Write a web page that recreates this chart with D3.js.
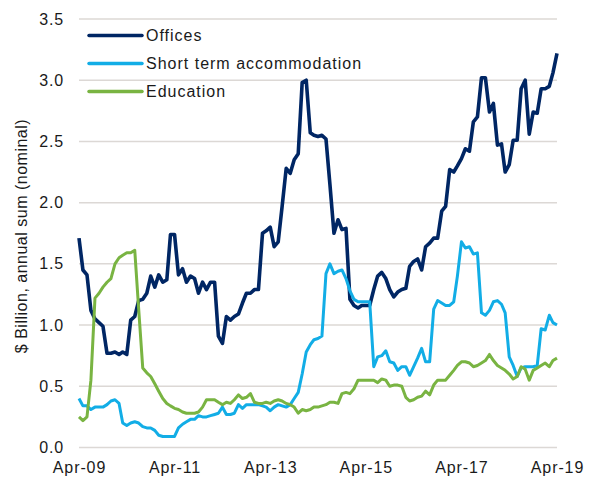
<!DOCTYPE html>
<html>
<head>
<meta charset="utf-8">
<script src="https://cdn.jsdelivr.net/npm/d3@7"></script>
<style>
  body { margin: 0; background: #fff; }
  svg text { font-family: "Liberation Sans", Arial, sans-serif; fill: #1a1a1a; }
</style>
</head>
<body>
<svg id="chart" width="595" height="481"></svg>
<script>
// monthly, Apr-09 .. Apr-19 ($ billion, annual sum)
const offices = [
  1.71, 1.45, 1.41, 1.12, 1.05, 1.02, 0.99, 0.77, 0.77, 0.78, 0.76, 0.78,
  0.76, 1.04, 1.07, 1.20, 1.21, 1.26, 1.40, 1.31, 1.41, 1.35, 1.37, 1.74,
  1.74, 1.41, 1.46, 1.35, 1.40, 1.38, 1.26, 1.35, 1.29, 1.35, 1.35, 0.91,
  0.85, 1.07, 1.04, 1.07, 1.09, 1.18, 1.26, 1.26, 1.29, 1.29, 1.75, 1.77,
  1.80, 1.64, 1.68, 1.97, 2.28, 2.24, 2.35, 2.40, 2.98, 3.00, 2.57, 2.55,
  2.54, 2.55, 2.52, 2.15, 1.75, 1.86, 1.78, 1.79, 1.21, 1.16, 1.14, 1.16,
  1.16, 1.16, 1.29, 1.40, 1.43, 1.38, 1.29, 1.23, 1.27, 1.29, 1.30, 1.48,
  1.52, 1.54, 1.45, 1.64, 1.67, 1.71, 1.71, 1.93, 1.97, 2.27, 2.25, 2.30,
  2.36, 2.44, 2.42, 2.66, 2.70, 3.02, 3.02, 2.74, 2.81, 2.47, 2.48, 2.25,
  2.31, 2.51, 2.51, 2.93, 3.00, 2.56, 2.74, 2.73, 2.93, 2.93, 2.95, 3.06,
  3.22
];
const shortTerm = [
  0.40, 0.34, 0.34, 0.31, 0.33, 0.33, 0.33, 0.35, 0.38, 0.39, 0.36, 0.20,
  0.18, 0.20, 0.21, 0.20, 0.17, 0.16, 0.16, 0.14, 0.10, 0.09, 0.09, 0.09,
  0.09, 0.16, 0.19, 0.21, 0.23, 0.23, 0.26, 0.25, 0.25, 0.26, 0.27, 0.28,
  0.33, 0.27, 0.27, 0.28, 0.35, 0.32, 0.35, 0.35, 0.35, 0.35, 0.34, 0.33,
  0.30, 0.33, 0.35, 0.34, 0.33, 0.35, 0.40, 0.45, 0.60, 0.78, 0.84, 0.88,
  0.89, 0.91, 1.42, 1.50, 1.42, 1.44, 1.45, 1.38, 1.28, 1.21, 1.19, 1.19,
  1.19, 1.19, 0.66, 0.74, 0.75, 0.79, 0.70, 0.69, 0.63, 0.66, 0.66, 0.59,
  0.66, 0.73, 0.81, 0.70, 0.70, 1.13, 1.20, 1.18, 1.16, 1.16, 1.19, 1.40,
  1.68, 1.63, 1.64, 1.58, 1.59, 1.10, 1.08, 1.12, 1.19, 1.20, 1.17, 1.10,
  0.74, 0.67, 0.58, 0.65, 0.66, 0.66, 0.66, 0.67, 0.97, 0.96, 1.08, 1.02,
  1.00
];
const education = [
  0.25, 0.22, 0.25, 0.55, 1.22, 1.26, 1.31, 1.35, 1.38, 1.50, 1.55, 1.57,
  1.59, 1.59, 1.61, 1.13, 0.65, 0.61, 0.58, 0.52, 0.46, 0.40, 0.36, 0.34,
  0.32, 0.31, 0.29, 0.28, 0.28, 0.28, 0.29, 0.33, 0.39, 0.39, 0.39, 0.37,
  0.35, 0.37, 0.36, 0.39, 0.43, 0.40, 0.41, 0.44, 0.37, 0.36, 0.36, 0.37,
  0.36, 0.38, 0.39, 0.38, 0.36, 0.35, 0.33, 0.28, 0.31, 0.30, 0.31, 0.33,
  0.33, 0.34, 0.35, 0.37, 0.37, 0.36, 0.44, 0.45, 0.44, 0.48, 0.55, 0.55,
  0.55, 0.55, 0.55, 0.53, 0.56, 0.55, 0.50, 0.51, 0.51, 0.50, 0.41, 0.38,
  0.39, 0.41, 0.42, 0.46, 0.43, 0.51, 0.55, 0.55, 0.55, 0.59, 0.63, 0.67,
  0.70, 0.70, 0.69, 0.66, 0.67, 0.69, 0.71, 0.76, 0.71, 0.67, 0.65, 0.63,
  0.60, 0.56, 0.58, 0.66, 0.64, 0.55, 0.63, 0.65, 0.67, 0.69, 0.66, 0.71,
  0.73
];
const seriesNames = ["Offices", "Short term accommodation", "Education"];
const yTicks = [0, 0.5, 1, 1.5, 2, 2.5, 3, 3.5];
const xTickLabels = ["Apr-09", "Apr-11", "Apr-13", "Apr-15", "Apr-17", "Apr-19"];

const colors = ["#002664", "#12ade6", "#79b442"];
const widths = [3.6, 3, 3];

const svg = d3.select("#chart");
const start = new Date(2009, 3, 1);
const months = d3.range(offices.length).map(i => d3.timeMonth.offset(start, i));
const parseTick = d3.timeParse("%b-%y");

const x = d3.scaleTime()
  .domain([months[0], months[months.length - 1]])
  .range([79, 557]);
const y = d3.scaleLinear().domain([0, 3.5]).range([447.5, 19]);

// gridlines
svg.append("g")
  .selectAll("line")
  .data(yTicks)
  .join("line")
  .attr("x1", 79).attr("x2", 557)
  .attr("y1", d => y(d)).attr("y2", d => y(d))
  .attr("stroke", "#dcd8d5")
  .attr("stroke-width", 1.5);

// y axis labels
const yAxis = svg.append("g")
  .attr("transform", "translate(66,0)")
  .call(d3.axisLeft(y).tickValues(yTicks).tickFormat(d3.format(".1f")).tickSize(0));
yAxis.select(".domain").remove();
yAxis.selectAll("text")
  .attr("x", -2)
  .style("font-size", "16px")
  .style("letter-spacing", "0.8px")
  .attr("fill", "#1a1a1a");

// x axis labels
const xAxis = svg.append("g")
  .attr("transform", "translate(0,458)")
  .call(d3.axisBottom(x)
    .tickValues(xTickLabels.map(parseTick))
    .tickFormat(d3.timeFormat("%b-%y"))
    .tickSize(0));
xAxis.select(".domain").remove();
xAxis.selectAll("text")
  .attr("y", 4)
  .style("font-size", "16px")
  .style("letter-spacing", "0.9px")
  .attr("fill", "#1a1a1a");

// y title
svg.append("text")
  .attr("transform", "translate(27,236) rotate(-90)")
  .attr("text-anchor", "middle")
  .style("font-size", "16px")
  .style("letter-spacing", "0.5px")
  .text("$ Billion, annual sum (nominal)");

// lines
const line = d3.line()
  .x((d, i) => x(months[i]))
  .y(d => y(d));

[offices, shortTerm, education].forEach((s, k) => {
  svg.append("path")
    .datum(s)
    .attr("fill", "none")
    .attr("stroke", colors[k])
    .attr("stroke-width", widths[k])
    .attr("stroke-linejoin", "round")
    .attr("d", line);
});

// legend
const legend = svg.append("g")
  .selectAll("g")
  .data(seriesNames)
  .join("g")
  .attr("transform", (d, i) => "translate(89," + (35.5 + i * 28) + ")");
legend.append("line")
  .attr("x1", 0).attr("x2", 53)
  .attr("stroke", (d, i) => colors[i])
  .attr("stroke-width", 3.5)
  .attr("stroke-linecap", "round");
legend.append("text")
  .attr("x", 57)
  .attr("dy", "0.35em")
  .style("font-size", "16px")
  .style("letter-spacing", "1px")
  .text(d => d);
</script>
</body>
</html>
